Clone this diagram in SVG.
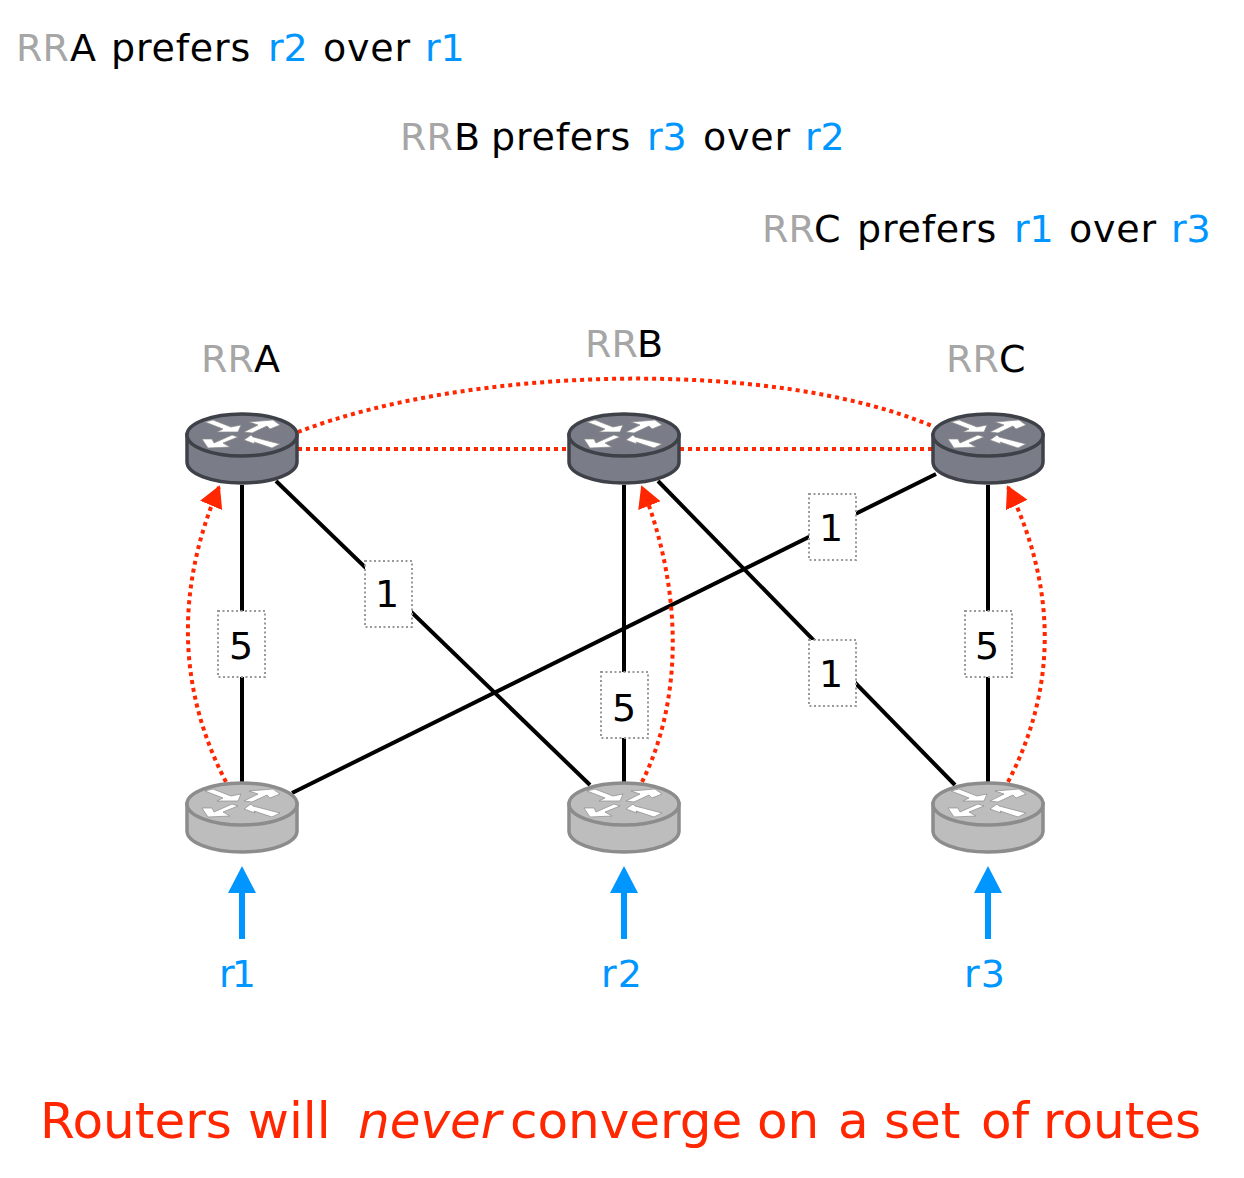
<svg xmlns="http://www.w3.org/2000/svg" width="1244" height="1178" viewBox="0 0 1244 1178">
<style>
text{font-family:"DejaVu Sans","Liberation Sans",sans-serif;fill:#000}
.g{fill:#a6a6a6}.b{fill:#0096ff}
.h{font-size:38px}.n{font-size:38px}.w{font-size:38px;text-anchor:middle}
.s{letter-spacing:.8px}
.l{stroke:#000;stroke-width:4;fill:none}
.d{stroke:#ff2600;stroke-width:4;stroke-dasharray:4 4;fill:none}
.box{fill:#fff;stroke:#999;stroke-width:2;stroke-dasharray:2 2.5}
.dk{fill:#7a7d87;stroke:#3f4149;stroke-width:3.500}
.lt{fill:#bdbdbd;stroke:#8c8c8c;stroke-width:3.500}
.ar{fill:#fff;stroke:#8a8a8a;stroke-width:.7}
</style>
<defs>
<marker id="ra" markerUnits="userSpaceOnUse" markerWidth="22" markerHeight="26" refX="20" refY="12" orient="auto"><path d="M0 0L22 12L0 24z" fill="#ff2600"/></marker>
<g id="rt">
<path d="M-55 0V27A55 21 0 0 0 55 27V0z"/>
<ellipse cx="0" cy="0" rx="55" ry="21"/>
<path class="ar" d="M-37-13L-29-15L-11-8L-1-10L-4-3L-25-3L-19-6z"/>
<path class="ar" d="M2-3L16-10L7-13L31-15L38-10L28-6L25-9L10-2z"/>
<path class="ar" d="M-40 4L-34 13L-12 12L-19 8L-4 2L-10 0L-28 8L-30 4z"/>
<path class="ar" d="M2 5L9 0L11 2L38 9L30 13L12 7L13 9z"/>
</g>
</defs>
<g id="connectors">
<path class="l" d="M242 485V782"/>
<path class="l" d="M276 481L590 785"/>
<path class="l" d="M292 793L936 474"/>
<path class="l" d="M624 485V782"/>
<path class="l" d="M658 481L955 785"/>
<path class="l" d="M988 485V782"/>
<path class="d" d="M298 432C470 366 770 358 932 426"/>
<path class="d" d="M298 449H568"/>
<path class="d" d="M680 449H932"/>
<path class="d" d="M226 782C178 690 175 590 219 487" marker-end="url(#ra)"/>
<path class="d" d="M642 782C683 700 683 590 642 487" marker-end="url(#ra)"/>
<path class="d" d="M1008 782C1056 690 1058 590 1008 487" marker-end="url(#ra)"/>
<path d="M242 939V886" stroke="#0096ff" stroke-width="6"/><path d="M228 893L242 866L256 893z" fill="#0096ff"/>
<path d="M624 939V886" stroke="#0096ff" stroke-width="6"/><path d="M610 893L624 866L638 893z" fill="#0096ff"/>
<path d="M988 939V886" stroke="#0096ff" stroke-width="6"/><path d="M974 893L988 866L1002 893z" fill="#0096ff"/>
</g>
<g id="RRA" class="dk"><use href="#rt" x="242" y="435"/></g>
<g id="RRB" class="dk"><use href="#rt" x="624" y="435"/></g>
<g id="RRC" class="dk"><use href="#rt" x="988" y="435"/></g>
<g id="R1" class="lt"><use href="#rt" x="242" y="804"/></g>
<g id="R2" class="lt"><use href="#rt" x="624" y="804"/></g>
<g id="R3" class="lt"><use href="#rt" x="988" y="804"/></g>
<g id="w1"><rect class="box" x="218" y="611" width="47" height="66"/><text class="w" x="241" y="659">5</text></g>
<g id="w2"><rect class="box" x="365" y="561" width="47" height="66"/><text class="w" x="387" y="607">1</text></g>
<g id="w3"><rect class="box" x="601" y="672" width="47" height="66"/><text class="w" x="624" y="721">5</text></g>
<g id="w4"><rect class="box" x="809" y="494" width="47" height="66"/><text class="w" x="831" y="541">1</text></g>
<g id="w5"><rect class="box" x="809" y="640" width="47" height="66"/><text class="w" x="831" y="687">1</text></g>
<g id="w6"><rect class="box" x="965" y="611" width="47" height="66"/><text class="w" x="987" y="659">5</text></g>
<text class="h" y="61"><tspan class="g" x="16">RR</tspan><tspan x="70">A</tspan><tspan class="s" x="111">prefers</tspan><tspan class="b" x="268">r2</tspan><tspan class="s" x="323">over</tspan><tspan class="b" x="425">r1</tspan></text>
<text class="h" y="150"><tspan class="g" x="400">RR</tspan><tspan x="454">B</tspan><tspan class="s" x="491">prefers</tspan><tspan class="b" x="647">r3</tspan><tspan class="s" x="703">over</tspan><tspan class="b" x="805">r2</tspan></text>
<text class="h" y="242"><tspan class="g" x="762">RR</tspan><tspan x="814">C</tspan><tspan class="s" x="857">prefers</tspan><tspan class="b" x="1014">r1</tspan><tspan class="s" x="1069">over</tspan><tspan class="b" x="1171">r3</tspan></text>
<text class="n" y="372"><tspan class="g" x="201">RR</tspan><tspan x="254">A</tspan></text>
<text class="n" y="357"><tspan class="g" x="585">RR</tspan><tspan x="637">B</tspan></text>
<text class="n" y="372"><tspan class="g" x="946">RR</tspan><tspan x="999">C</tspan></text>
<text class="n b" x="219" y="987" textLength="37">r1</text>
<text class="n b" x="601" y="987" textLength="41">r2</text>
<text class="n b" x="964" y="987" textLength="41">r3</text>
<text y="1138" font-size="50" style="fill:#ff2600"><tspan x="40">Routers</tspan><tspan x="248">will</tspan><tspan x="358" font-style="italic">never</tspan><tspan x="510">converge</tspan><tspan x="757">on</tspan><tspan x="838">a</tspan><tspan x="884">set</tspan><tspan x="981">of</tspan><tspan x="1043">routes</tspan></text>
</svg>
